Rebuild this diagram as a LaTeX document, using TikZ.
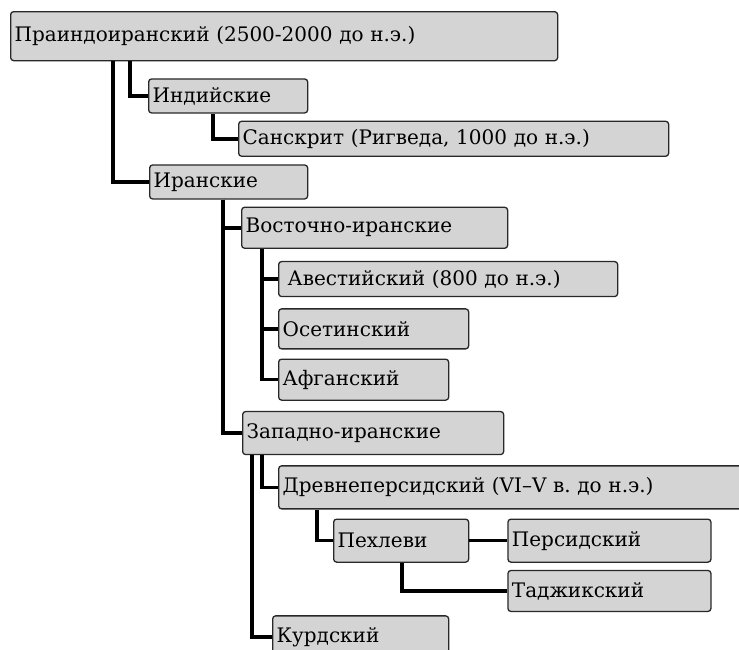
\documentclass[tikz,border=0pt]{standalone}
\usepackage{fontspec}
\usepackage{tikz}
\usepackage{xcolor}
\setmainfont{DejaVu Serif}
\usetikzlibrary{positioning}
\frenchspacing

\definecolor{boxgray}{RGB}{212,212,212}
\definecolor{boxline}{RGB}{40,40,40}

\begin{document}
\begin{tikzpicture}[font = \fontsize{20}{24}\selectfont,
        lang/.style 2 args = {draw = boxline, fill = boxgray, line width = 1.3pt,
            rounded corners = 3pt, inner xsep = 4pt, inner ysep = 0pt,
            align = left, text width = #1, minimum height = #2},
        link/.style = {draw, line width = 3.5pt}]
        \useasboundingbox (0,0) rectangle (739pt,-649pt);
        \clip (0,0) rectangle (739pt,-649pt);

        \node [lang = {539pt}{49pt}, anchor = north west] (P) at (10pt,-11pt) {Праиндоиранский (2500-2000 до н.э.)};
        \node [lang = {151pt}{34pt}] (Ind) [below right = 17pt and 138pt of P.south west] {Индийские};
        \node [lang = {422pt}{35pt}] (San) [below right = 7pt and 90pt of Ind.south west] {Санскрит (Ригведа, 1000 до н.э.)};
        \node [lang = {150pt}{34pt}] (Ir) [below right = 103pt and 139pt of P.south west] {Иранские};
        \node [lang = {258pt}{41pt}] (Vos) [below right = 7pt and 92pt of Ir.south west] {Восточно-иранские};
        \node [lang = {331pt}{35pt}] (Av) [below right = 12pt and 37pt of Vos.south west] {\hspace{5pt}Авестийский (800 до н.э.)};
        \node [lang = {182pt}{40pt}] (Os) [below right = 11pt and 0pt of Av.south west] {Осетинский};
        \node [lang = {162pt}{41pt}] (Af) [below right = 9pt and 0pt of Os.south west] {Афганский};
        \node [lang = {253pt}{43pt}] (Za) [below right = 162pt and 1pt of Vos.south west] {Западно-иранские};
        \node [lang = {480pt}{43pt}] (Dr) [below right = 10pt and 36pt of Za.south west] {Древнеперсидский (VI–V в. до н.э.)};
        \node [lang = {127pt}{43pt}] (Ph) [below right = 9pt and 55pt of Dr.south west] {Пехлеви};
        \node [lang = {195pt}{43pt}] (Pe) [right = 38pt of Ph] {Персидский};
        \node [lang = {195pt}{41pt}] (Ta) [below = 7pt of Pe] {Таджикский};
        \node [lang = {168pt}{42pt}] (Ku) [below right = 160pt and 30pt of Za.south west] {Курдский};

        % branches
        \path [link] (P.south west) ++(120pt,0) |- (Ind.west);
        \path [link] (P.south west) ++(103pt,0) |- (Ir.west);
        \path [link] (Ind.south west) ++(65pt,0) |- (San.west);
        \path [link] (Ir.south west) ++(74pt,0) |- (Vos.west);
        \path [link] (Ir.south west) ++(74pt,0) |- (Za.west);
        \path [link] (Vos.south west) ++(21pt,0) |- (Av.west);
        \path [link] (Vos.south west) ++(21pt,0) |- (Os.west);
        \path [link] (Vos.south west) ++(21pt,0) |- (Af.west);
        \path [link] (Za.south west) ++(20pt,0) |- (Dr.west);
        \path [link] (Za.south west) ++(10pt,0) |- (Ku.west);
        \path [link] (Dr.south west) ++(39pt,0) |- (Ph.west);
        \path [link] (Ph.east) -- (Pe.west);
        \path [link] (Ph.south west) ++(69pt,0) |- (Ta.west);
    \end{tikzpicture}
\end{document}
